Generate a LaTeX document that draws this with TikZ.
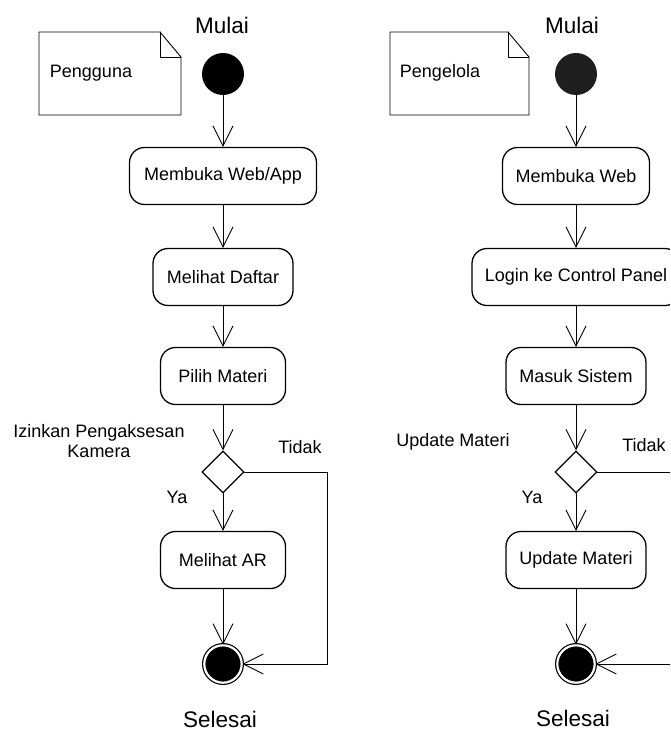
\documentclass[tikz,border=0pt]{standalone}
\usepackage{fontspec}
\setmainfont{Liberation Sans}
\usetikzlibrary{arrows.meta,shapes.geometric}

\begin{document}
\begin{tikzpicture}[line join=round, line cap=round, >={Straight Barb[length=20pt,width=20pt]}, line width=0.9pt, x=1pt, y=-1pt]
	\tikzset{every node/.style={font=\fontsize{18}{19.5}\selectfont},
		kegiatan/.style={draw, rounded corners=15pt, line width=1.3pt, inner sep=0pt, minimum height=57pt},
		keputusan/.style={draw, diamond, line width=1.3pt, line join=miter, inner sep=0pt, minimum width=42pt, minimum height=42pt},
		awal/.style={circle, fill=black, inner sep=0pt, minimum size=42pt},
		akhir/.style={circle, draw, fill=black, double, double distance=2.2pt, line width=1.2pt, inner sep=0pt, minimum size=37.4pt},
		judul/.style={font=\fontsize{22.5}{24}\selectfont, inner sep=1pt}}
	\clip (0,0) rectangle (670,733);
	% kolom pengguna
	\draw (39,32) -- (160,32) -- (181,57) -- (181,115) -- (39,115) -- cycle;
	\draw (160,32) -- (160,57) -- (181,57);
	\node (pengguna) at (91,73) {Pengguna};
	\node[judul] (mulaiA) at (222,25) {Mulai};
	\node[awal] (startA) at (223,74) {};
	\node[kegiatan, minimum width=187pt] (webA) at (223,176) {Membuka Web/App};
	\node[kegiatan, minimum width=140pt] (daftarA) at (223,277) {Melihat Daftar};
	\node[kegiatan, minimum width=125pt] (pilihA) at (223,376) {Pilih Materi};
	\node[keputusan] (decA) at (223,472) {};
	\node[kegiatan, minimum width=125pt] (arA) at (223,560) {Melihat AR};
	\node[akhir] (endA) at (223,664) {};
	\node[judul] (selesaiA) at (220,719) {Selesai};
	\node[align=center] (izinA) at (99,441) {Izinkan Pengaksesan\\Kamera};
	\node (tidakA) at (300,447) {Tidak};
	\node (yaA) at (177,497) {Ya};
	\coordinate (belokA) at (327,472);
	\draw[->] (startA) -- (webA);
	\draw[->] (webA) -- (daftarA);
	\draw[->] (daftarA) -- (pilihA);
	\draw[->] (pilihA) -- (decA);
	\draw[->] (decA) -- (arA);
	\draw[->] (arA) -- (endA);
	\draw[->] (decA.east) -- (belokA) |- (endA.east);
	% kolom pengelola
	\draw (390,32) -- (508,32) -- (529,57) -- (529,115) -- (390,115) -- cycle;
	\draw (508,32) -- (508,57) -- (529,57);
	\node (pengelola) at (440,73) {Pengelola};
	\node[judul] (mulaiB) at (572,25) {Mulai};
	\node[awal, fill=black!88] (startB) at (576,74) {};
	\node[kegiatan, minimum width=147pt] (webB) at (576,176) {Membuka Web};
	\node[kegiatan, minimum width=208pt] (loginB) at (576,277) {Login ke Control Panel};
	\node[kegiatan, minimum width=140pt] (masukB) at (576,376) {Masuk Sistem};
	\node[keputusan] (decB) at (576,472) {};
	\node[kegiatan, minimum width=140pt] (updB) at (576,560) {Update Materi};
	\node[akhir] (endB) at (576,664) {};
	\node[judul] (selesaiB) at (573,718) {Selesai};
	\node (updateB) at (453,442) {Update Materi};
	\node (tidakB) at (644,445) {Tidak};
	\node (yaB) at (532,497) {Ya};
	\coordinate (belokB) at (690,472);
	\draw[->] (startB) -- (webB);
	\draw[->] (webB) -- (loginB);
	\draw[->] (loginB) -- (masukB);
	\draw[->] (masukB) -- (decB);
	\draw[->] (decB) -- (updB);
	\draw[->] (updB) -- (endB);
	\draw[->] (decB.east) -- (belokB) |- (endB.east);
\end{tikzpicture}
\end{document}
